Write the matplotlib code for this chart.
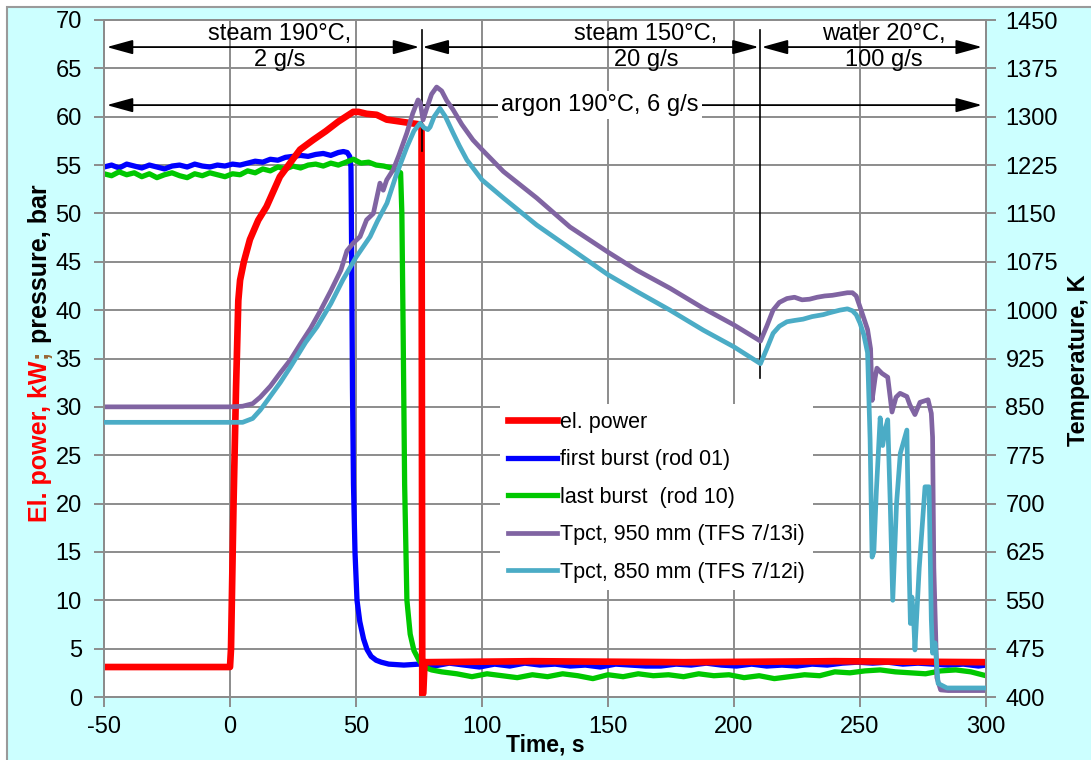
import matplotlib
matplotlib.use('Agg')
import matplotlib.pyplot as plt
from matplotlib.patches import Rectangle

matplotlib.rcParams.update({'font.family': 'Liberation Sans', 'font.size': 17,
                            'axes.unicode_minus': False})

# electrical power, kW
red_t = [-50, -25, 0, 0.4, 1.4, 2.4, 3.3, 4.0, 5.5, 7.9, 11.2, 14.5, 19.8, 27.8,
         33, 38, 43, 48.9, 51, 54.2, 58.2, 62.2, 67.5, 72.7, 75.4, 76.0,
         76.3, 76.7, 77.2, 120, 180, 240, 300]
red_kw = [3.1, 3.1, 3.1, 5, 20, 32, 41, 43.1, 45, 47.3, 49.3, 50.7, 53.8, 56.6,
          57.6, 58.5, 59.5, 60.5, 60.5, 60.3, 60.2, 59.7, 59.5, 59.3, 59.2, 59.0,
          0.2, 0.4, 3.6, 3.7, 3.6, 3.7, 3.6]

# first burst (rod 01), bar
blue_t = [-50, -47, -44, -41, -38, -35, -32, -29, -26, -23, -20, -17, -14, -11, -8,
          -5, -2, 1, 4, 7, 10, 13, 16, 19, 22, 25, 28, 31, 34, 37, 40, 43, 45,
          46.5, 47.5, 48.0, 48.3, 48.6, 49.0, 49.6, 50.4, 51.5, 53, 54.4, 56, 58,
          60, 63, 69, 75, 81, 87, 93, 99, 105, 111, 117, 123, 129, 135, 141, 147,
          153, 159, 165, 171, 177, 183, 189, 195, 201, 207, 213, 219, 225, 231,
          237, 243, 249, 255, 261, 267, 273, 279, 285, 291, 297, 300]
blue_p = [54.8, 55.0, 54.7, 55.1, 54.9, 54.7, 55.0, 54.8, 54.6, 54.9, 55.0, 54.8,
          55.1, 54.9, 54.8, 55.0, 54.9, 55.1, 55.0, 55.2, 55.4, 55.3, 55.6, 55.5,
          55.8, 55.9, 56.0, 55.9, 56.1, 56.2, 56.0, 56.3, 56.4, 56.3, 55.9, 54.8,
          45, 32, 22, 15, 10, 7.8, 6.0, 4.9, 4.2, 3.8, 3.6, 3.4, 3.3, 3.4, 3.2,
          3.5, 3.3, 3.1, 3.4, 3.2, 3.5, 3.3, 3.4, 3.2, 3.3, 3.1, 3.4, 3.3, 3.2,
          3.2, 3.4, 3.3, 3.5, 3.3, 3.2, 3.4, 3.2, 3.3, 3.2, 3.4, 3.3, 3.5,
          3.6, 3.5, 3.6, 3.4, 3.5, 3.4, 3.3, 3.4, 3.2, 3.3]

# last burst (rod 10), bar
green_t = [-50, -47, -44, -41, -38, -35, -32, -29, -26, -23, -20, -17, -14, -11,
           -8, -5, -2, 1, 4, 7, 10, 13, 16, 19, 22, 25, 28, 31, 34, 37, 40, 43,
           46, 49, 52, 55, 58, 61, 64, 66.5, 67.7, 68.2, 68.7, 69.3, 70.2, 71.5,
           73, 75, 77, 80, 84, 90, 96, 102, 108, 114, 120, 126, 132, 138, 144,
           150, 156, 162, 168, 174, 180, 186, 192, 198, 204, 210, 216, 222, 228,
           234, 240, 246, 252, 258, 264, 270, 276, 282, 288, 294, 300]
green_p = [54.1, 53.9, 54.3, 54.0, 54.2, 53.8, 54.1, 53.7, 54.0, 54.2, 53.9, 53.7,
           54.1, 53.9, 54.2, 54.0, 53.8, 54.1, 54.0, 54.4, 54.2, 54.6, 54.4, 54.8,
           54.6, 54.9, 54.7, 55.0, 55.1, 54.9, 55.2, 55.0, 55.3, 55.6, 55.2, 55.3,
           55.0, 54.9, 54.7, 54.4, 54.2, 50, 38, 22, 10, 6.5, 4.8, 3.8, 3.1, 2.8,
           2.6, 2.4, 2.1, 2.4, 2.2, 2.0, 2.3, 2.1, 2.4, 2.2, 1.9, 2.3, 2.1, 2.4,
           2.2, 2.3, 2.1, 2.4, 2.2, 2.3, 2.0, 2.2, 1.9, 2.1, 2.3, 2.2, 2.6, 2.5,
           2.7, 2.8, 2.6, 2.5, 2.4, 2.7, 2.8, 2.6, 2.2]

# Tpct at 950 mm (TFS 7/13i), K
purple_t = [-50, 0, 5, 9, 12, 16, 20, 24, 28, 32, 36, 40, 44, 46.4, 48.9, 51.6,
            54.2, 56.9, 59.5, 60.8, 62.2, 64.8, 67, 70.2, 72.5, 74.6, 75.5, 76.6,
            78, 80, 82, 84, 86, 88.5, 92, 96.4, 100, 108.5, 121.7, 134.9, 150,
            161.4, 174.6, 187.8, 200, 210.5, 213, 215.5, 218, 221, 224, 227, 230,
            233, 236, 239, 242, 245, 247, 248.5, 250.7, 253, 254.2, 254.8, 256,
            256.7, 258.7, 261, 262.7, 264.3, 265.9, 268.6, 269.8, 271.8, 273.8,
            277, 278.3, 278.8, 279.3, 280.5, 282, 285, 300]
purple_k = [850, 850, 851, 855, 865, 882, 903, 923, 948, 972, 1000, 1030, 1062,
            1092, 1104, 1114, 1140, 1150, 1197, 1186, 1202, 1218, 1240, 1275, 1305,
            1326, 1322, 1295, 1312, 1335, 1346, 1340, 1325, 1311, 1288, 1264, 1249,
            1215, 1174, 1129, 1090, 1062, 1034, 1003, 977, 952, 975, 1000, 1012,
            1018, 1020, 1016, 1017, 1020, 1022, 1023, 1025, 1027, 1027, 1022, 997,
            970, 940, 860, 895, 910, 902, 896, 842, 865, 871, 866, 853, 838, 857,
            861, 840, 803, 600, 430, 411, 410, 410]

# Tpct at 850 mm (TFS 7/12i), K
cyan_t = [-50, 5, 9, 12, 15, 20, 24, 30, 34.5, 40, 44.8, 50, 55.6, 58.5, 62.3, 66,
          70.2, 73, 75.4, 77, 78.5, 79.4, 81, 83.3, 85.5, 88.5, 91, 94, 100,
          108.5, 121.7, 134.9, 150, 161.4, 174.6, 187.8, 200, 210.5, 213, 215.5,
          218, 221, 224, 227.4, 231, 235.4, 238, 242, 245, 247, 248.5, 250,
          251.5, 253, 254, 254.8, 255.5, 256.5, 258, 259, 260, 261, 262, 263,
          264.5, 266, 268.6, 269.5, 270, 270.6, 271.3, 271.8, 273.5, 275.8,
          277.4, 278.3, 278.8, 279.8, 281, 284.5, 300]
cyan_k = [826, 826, 832, 845, 861, 888, 912, 950, 974, 1010, 1047, 1082, 1114,
          1138, 1166, 1210, 1253, 1278, 1290, 1283, 1280, 1284, 1300, 1313, 1300,
          1275, 1255, 1233, 1202, 1174, 1132, 1096, 1055, 1029, 1000, 969, 943,
          917, 940, 964, 975, 982, 984, 986, 990, 993, 996, 1000, 1002, 999, 993,
          980, 962, 934, 800, 617, 625, 720, 833, 790, 815, 830, 700, 550, 700,
          778, 814, 600, 514, 555, 520, 473, 600, 726, 726, 520, 468, 484, 421,
          414, 414]

xticks = list(range(-50, 301, 50))
p_ticks = list(range(0, 71, 5))
t_ticks = list(range(400, 1451, 75))

gray = '#8c8c8c'

fig = plt.figure(figsize=(10.91, 7.60), dpi=100)
fig.patches.append(Rectangle((7 / 1091, -0.05), 1.1, 1.05 - 7 / 760,
                             transform=fig.transFigure, facecolor='#CCFFFF',
                             edgecolor='#9a9a9a', lw=1.5, zorder=-5))

ax = fig.add_axes([104 / 1091, 63 / 760, 882 / 1091, 677 / 760])
ax2 = ax.twinx()
ax.set_facecolor('white')

l_red, = ax.plot(red_t, red_kw, color='#FF0000', lw=4.8, zorder=4,
                 solid_joinstyle='round', label='el. power')
l_blue, = ax.plot(blue_t, blue_p, color='#0000FF', lw=3.8, zorder=2,
                  solid_joinstyle='round', label='first burst (rod 01)')
l_green, = ax.plot(green_t, green_p, color='#00C800', lw=3.8, zorder=3,
                   solid_joinstyle='round', label='last burst  (rod 10)')
l_purple, = ax2.plot(purple_t, purple_k, color='#8064A2', lw=3.4, zorder=2,
                     solid_joinstyle='round', label='Tpct, 950 mm (TFS 7/13i)')
l_cyan, = ax2.plot(cyan_t, cyan_k, color='#4BACC6', lw=3.4, zorder=3,
                   solid_joinstyle='round', label='Tpct, 850 mm (TFS 7/12i)')

ax.set_xlim(-50, 300)
ax.set_ylim(0, 70)
ax2.set_ylim(400, 1450)
ax.set_xticks(xticks)
ax.set_yticks(p_ticks)
ax2.set_yticks(t_ticks)

ax.grid(True, color=gray, lw=1.4)
ax.set_axisbelow(True)
for a in (ax, ax2):
    for s in a.spines.values():
        s.set_color(gray)
        s.set_linewidth(1.4)
ax.tick_params(axis='both', direction='out', length=7, width=1.4, color=gray,
               labelsize=17)
ax.tick_params(axis='y', pad=9)
ax.tick_params(axis='x', pad=7)
ax2.tick_params(axis='y', direction='out', length=7, width=1.4, color=gray,
                labelsize=17, pad=7)

# flow regime arrows
arrow = dict(arrowstyle='<|-|>,head_length=0.8,head_width=0.22', color='black',
             lw=1.3, mutation_scale=20, shrinkA=0, shrinkB=0)
for x0, x1 in [(-48.9, 75.1), (76.4, 209.8), (211.0, 298.4)]:
    ax.annotate('', xy=(x1, 67.2), xytext=(x0, 67.2), arrowprops=arrow, zorder=5)
ax.annotate('', xy=(298.4, 61.2), xytext=(-48.9, 61.2), arrowprops=arrow, zorder=5)
ax.plot([76.0, 76.0], [69.0, 56.5], color='black', lw=1.2, zorder=5)
ax.plot([210.5, 210.5], [69.0, 33.0], color='black', lw=1.2, zorder=5)

ax.text(19.8, 67.2, 'steam 190°C,\n2 g/s', ha='center', va='center',
        fontsize=17, zorder=6)
ax.text(165.1, 67.2, 'steam 150°C,\n20 g/s', ha='center', va='center',
        fontsize=17, zorder=6)
ax.text(259.5, 67.2, 'water 20°C,\n100 g/s', ha='center', va='center',
        fontsize=17, zorder=6)
ax.text(146.8, 61.2, 'argon 190°C, 6 g/s', ha='center', va='center', fontsize=17,
        zorder=6, bbox=dict(facecolor='white', edgecolor='none', pad=2))

handles = [l_red, l_blue, l_green, l_purple, l_cyan]
leg = ax2.legend(handles, [h.get_label() for h in handles], loc='upper left',
                 bbox_to_anchor=(0.449, 0.4328), borderaxespad=0, borderpad=0.35,
                 fontsize=15.5, handlelength=2.3, handletextpad=0.15,
                 labelspacing=0.77, frameon=True, fancybox=False,
                 edgecolor='none', facecolor='white', framealpha=1)
leg.set_zorder(10)

fig.text(545 / 1091, 1 - 745 / 760, 'Time, s', ha='center', va='center',
         fontsize=16.5, fontweight='bold')
fig.text(1078 / 1091, 1 - 360 / 760, 'Temperature, K', ha='center', va='center',
         rotation=90, fontsize=17, fontweight='bold')

# left axis title in three colours, stacked bottom to top
fig.canvas.draw()
r = fig.canvas.get_renderer()
H = fig.bbox.height
y = 1 - 522 / 760
for s, c, gap in [('El. power, kW', '#FF0000', 0), (';', '#996633', 2),
                  ('pressure, bar', 'black', 7)]:
    y += gap / H
    t = fig.text(40 / 1091, y, s, rotation=90, ha='center', va='bottom',
                 color=c, fontsize=18, fontweight='bold')
    y = t.get_window_extent(r).y1 / H

fig.savefig('out.png', dpi=100)
